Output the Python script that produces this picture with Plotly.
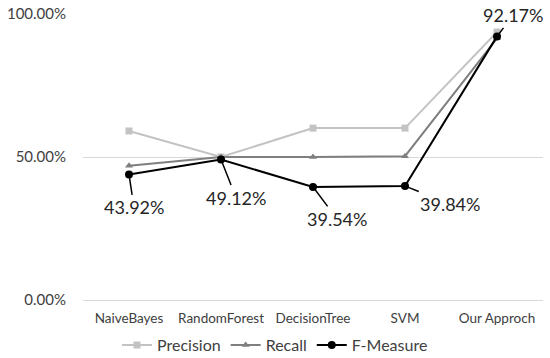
import plotly.graph_objects as go

categories = ["NaiveBayes", "RandomForest", "DecisionTree", "SVM", "Our Approch"]
precision = [0.591, 0.500, 0.601, 0.601, 0.937]
recall = [0.469, 0.500, 0.500, 0.503, 0.915]
fmeasure = [0.4392, 0.4912, 0.3954, 0.3984, 0.9217]
label_text = ["43.92%", "49.12%", "39.54%", "39.84%", "92.17%"]
label_dx = [5, 15, 24, 45, 16]
label_dy = [33, 38, 32, 18, -21]

FONT = "Lato, Open Sans, sans-serif"

fig = go.Figure()
fig.add_trace(go.Scatter(x=categories, y=precision, name="Precision", mode="lines+markers",
                         line=dict(color="#c3c3c3", width=2),
                         marker=dict(symbol="square", size=7, color="#c3c3c3")))
fig.add_trace(go.Scatter(x=categories, y=recall, name="Recall", mode="lines+markers",
                         line=dict(color="#7f7f7f", width=2),
                         marker=dict(symbol="triangle-up", size=7, color="#7f7f7f")))
fig.add_trace(go.Scatter(x=categories, y=fmeasure, name="F-Measure", mode="lines+markers",
                         line=dict(color="#000000", width=2),
                         marker=dict(symbol="circle", size=8, color="#000000")))

for c, v, t, dx, dy in zip(categories, fmeasure, label_text, label_dx, label_dy):
    fig.add_annotation(x=c, y=v, text=t, showarrow=True, arrowhead=0, arrowwidth=1.5,
                       arrowcolor="#000000", ax=dx, ay=dy, standoff=3,
                       font=dict(family=FONT, size=18, color="#262626"))

fig.update_layout(
    width=550, height=358,
    margin=dict(l=83, r=7, t=14, b=58, autoexpand=False),
    paper_bgcolor="white", plot_bgcolor="white",
    font=dict(family=FONT, color="#404040"),
    showlegend=True,
    legend=dict(orientation="h", xref="container", yref="container", x=0.5, y=0.036,
                xanchor="center", yanchor="middle", font=dict(size=16, color="#404040"),
                tracegroupgap=0),
    xaxis=dict(range=[-0.5, 4.5], showgrid=False, showline=True, linecolor="#d9d9d9",
               linewidth=1, tickfont=dict(size=13.5, color="#404040"), ticks="",
               zeroline=False, ticklabelstandoff=6),
    yaxis=dict(range=[0, 1], tickvals=[0, 0.5, 1], tickformat=".2%",
               showgrid=True, gridcolor="#d9d9d9", gridwidth=1, zeroline=False,
               showline=False, tickfont=dict(size=15, color="#404040"),
               ticklabelstandoff=16),
)

fig.write_html("out.html", config={"displayModeBar": False},
               post_script="document.body.style.margin='0';document.body.style.overflow='hidden';")
